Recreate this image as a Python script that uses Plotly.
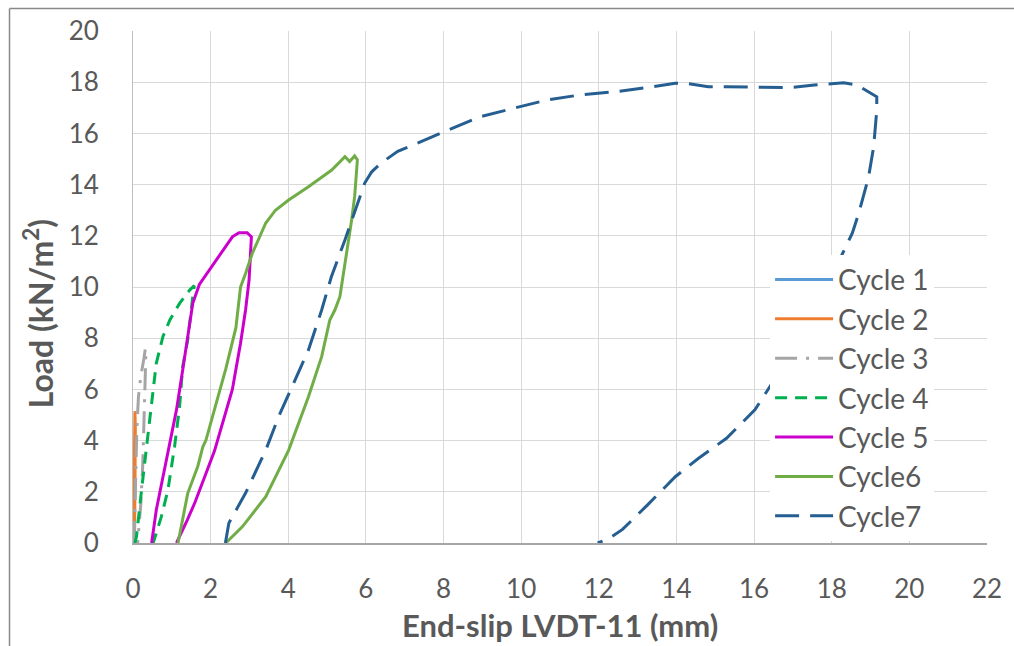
import plotly.graph_objects as go

# ---- data ----
c1_x = [0.0, 0.01, 0.02, 0.02, 0.01]
c1_y = [0.0, 1.0, 2.5, 2.0, 0.5]

c2_x = [0.0, 0.02, 0.03, 0.04, 0.05, 0.06, 0.05, 0.04]
c2_y = [0.0, 1.0, 2.5, 4.0, 5.15, 4.5, 2.0, 0.3]

c3_x = [0.03, 0.05, 0.07, 0.10, 0.14, 0.20, 0.28, 0.32, 0.33, 0.31, 0.28, 0.25, 0.20, 0.15, 0.12]
c3_y = [0.0, 1.5, 3.0, 4.5, 5.7, 6.5, 7.2, 7.6, 7.3, 6.0, 4.5, 3.0, 1.5, 0.5, 0.0]

c4_x = [0.05, 0.09, 0.22, 0.35, 0.48, 0.60, 0.77, 0.95, 1.20, 1.46, 1.58,
        1.54, 1.41, 1.28, 1.20, 1.07, 0.90, 0.73, 0.56, 0.52]
c4_y = [0.0, 0.25, 2.07, 3.89, 5.46, 7.02, 8.06, 8.71, 9.36, 9.88, 10.05,
        9.62, 7.93, 6.89, 5.32, 3.76, 2.07, 1.03, 0.12, 0.0]

c5_x = [0.48, 0.60, 0.86, 1.12, 1.28, 1.41, 1.54, 1.71, 2.14, 2.56, 2.73, 2.94, 3.05,
        3.03, 2.99, 2.90, 2.77, 2.56, 2.31, 2.10, 1.85, 1.60, 1.40, 1.16, 1.12]
c5_y = [0.0, 1.29, 3.24, 5.2, 6.76, 8.06, 9.36, 10.1, 11.05, 11.96, 12.12, 12.12, 11.96,
        11.18, 10.27, 9.1, 7.8, 6.0, 4.68, 3.6, 2.6, 1.6, 0.9, 0.1, 0.0]

c6_x = [1.16, 1.41, 1.67, 1.80, 1.88, 2.05, 2.39, 2.65, 2.73, 2.77, 2.90, 3.07, 3.42, 3.67,
        4.01, 4.52, 5.12, 5.46, 5.58, 5.71, 5.78,
        5.71, 5.63, 5.46, 5.33, 5.20, 5.07, 4.86, 4.52, 4.01, 3.42, 2.82, 2.39]
c6_y = [0.0, 1.94, 3.0, 3.76, 4.02, 4.93, 6.8, 8.4, 9.36, 10.0, 10.53, 11.3, 12.5, 13.0,
        13.4, 13.92, 14.57, 15.09, 14.9, 15.12, 14.96,
        13.53, 12.6, 10.93, 9.62, 9.1, 8.71, 7.28, 5.71, 3.63, 1.81, 0.64, 0.0]

c7_x = [2.38, 2.47, 2.90, 3.42, 3.75, 4.18, 4.52, 4.86, 5.11, 5.46, 5.71, 5.97, 6.15, 6.40,
        6.82, 7.50, 8.10, 8.94, 9.80, 10.65, 11.50, 12.44, 13.37, 13.97, 14.23, 14.82, 15.25,
        16.00, 16.95, 17.55, 18.31, 18.65, 19.16, 19.16, 19.08, 18.95, 18.70, 18.53, 18.23,
        17.80, 17.30, 16.70, 16.02, 15.29, 14.57, 13.97, 13.25, 12.61, 12.27, 11.97]
c7_y = [0.0, 0.78, 1.95, 3.63, 4.93, 6.37, 7.54, 9.1, 10.4, 11.84, 12.9, 14.06, 14.5, 14.85,
        15.3, 15.74, 16.13, 16.65, 16.98, 17.3, 17.5, 17.63, 17.82, 17.96, 17.96, 17.82, 17.82,
        17.8, 17.79, 17.89, 17.98, 17.89, 17.43, 16.9, 15.48, 14.3, 12.9, 12.1, 11.18,
        9.8, 8.4, 6.8, 5.2, 4.09, 3.31, 2.59, 1.48, 0.53, 0.18, 0.0]

names = ["Cycle 1", "Cycle 2", "Cycle 3", "Cycle 4", "Cycle 5", "Cycle6", "Cycle7"]
xs = [c1_x, c2_x, c3_x, c4_x, c5_x, c6_x, c7_x]
ys = [c1_y, c2_y, c3_y, c4_y, c5_y, c6_y, c7_y]
colors = ["#5b9bd5", "#ed7d31", "#a5a5a5", "#00b050", "#cc00cc", "#70ad47", "#255e91"]
dashes = ["solid", "solid", "22px,9px,3px,9px", "12px,8px", "solid", "solid", "24px,11px"]

x_ticks = list(range(0, 23, 2))
y_ticks = list(range(0, 21, 2))

FONT = "Lato, 'Open Sans', sans-serif"
GREY = "#595959"

fig = go.Figure()
for n, x, y, c, d in zip(names, xs, ys, colors, dashes):
    fig.add_trace(go.Scatter(x=x, y=y, mode="lines", name=n,
                             line=dict(color=c, width=3, dash=d)))

fig.update_layout(
    width=1014, height=646,
    margin=dict(l=133, r=20, t=31, b=103),
    paper_bgcolor="white", plot_bgcolor="white",
    font=dict(family=FONT, color=GREY),
    showlegend=True,
    legend=dict(x=0.746, y=0.563, xanchor="left", yanchor="top",
                bgcolor="white", font=dict(size=28, color=GREY),
                itemwidth=58, tracegroupgap=0),
    xaxis=dict(range=[0, 22], tickvals=x_ticks, ticktext=[str(v) for v in x_ticks],
               showgrid=True, gridcolor="#d9d9d9", gridwidth=1,
               showline=True, linecolor="#a6a6a6", linewidth=1.5,
               zeroline=False, ticks="", ticklabelstandoff=22,
               tickfont=dict(size=26, color=GREY)),
    yaxis=dict(range=[0, 20], tickvals=y_ticks, ticktext=[str(v) for v in y_ticks],
               showgrid=True, gridcolor="#d9d9d9", gridwidth=1,
               showline=True, linecolor="#bfbfbf", linewidth=1,
               zeroline=False, ticks="", ticklabelstandoff=28,
               tickfont=dict(size=26, color=GREY)),
    annotations=[
        dict(text="<b>End-slip LVDT-11 (mm)</b>", xref="paper", yref="paper",
             x=0.5, y=-0.16, xanchor="center", yanchor="middle", showarrow=False,
             font=dict(size=31, color=GREY)),
        dict(text="<b>Load (kN/m<sup>2</sup>)</b>", xref="paper", yref="paper",
             x=-0.111, y=0.447, xanchor="center", yanchor="middle", showarrow=False,
             textangle=-90, font=dict(size=32, color=GREY)),
    ],
    shapes=[
        dict(type="line", xref="paper", yref="paper", x0=(8.5 - 133) / 861, x1=(8.5 - 133) / 861,
             y0=(543 - 8.5) / 512, y1=(543 - 700) / 512, line=dict(color="#898989", width=1.5)),
        dict(type="line", xref="paper", yref="paper", x0=(8.5 - 133) / 861, x1=(1100 - 133) / 861,
             y0=(543 - 8.5) / 512, y1=(543 - 8.5) / 512, line=dict(color="#898989", width=1.5)),
    ],
)

fig.write_html("out.html")
